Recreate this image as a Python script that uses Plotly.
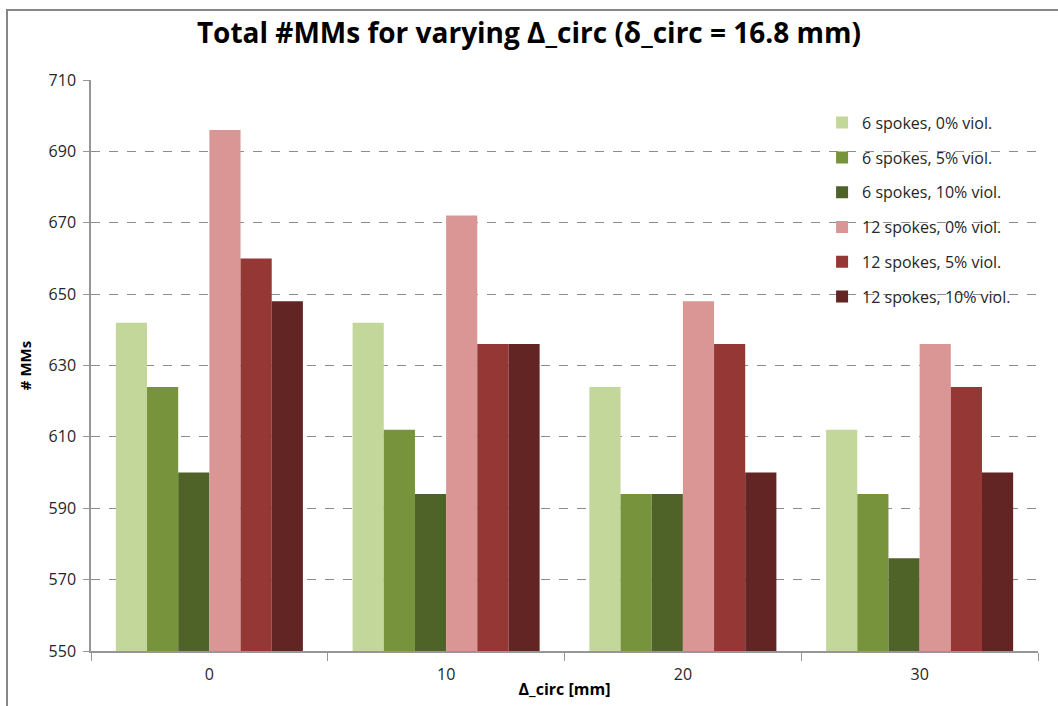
import plotly.graph_objects as go

categories = ["0", "10", "20", "30"]
series_names = [
    "6 spokes, 0% viol.",
    "6 spokes, 5% viol.",
    "6 spokes, 10% viol.",
    "12 spokes, 0% viol.",
    "12 spokes, 5% viol.",
    "12 spokes, 10% viol.",
]
s6_0 = [642, 642, 624, 612]
s6_5 = [624, 612, 594, 594]
s6_10 = [600, 594, 594, 576]
s12_0 = [696, 672, 648, 636]
s12_5 = [660, 636, 636, 624]
s12_10 = [648, 636, 600, 600]
series_values = [s6_0, s6_5, s6_10, s12_0, s12_5, s12_10]
colors = ["#C4D79B", "#77933C", "#4F6228", "#D99694", "#953735", "#632523"]
y_ticks = [550, 570, 590, 610, 630, 650, 670, 690, 710]

fig = go.Figure()
for i, (name, vals, col) in enumerate(zip(series_names, series_values, colors)):
    fig.add_trace(go.Bar(
        x=categories, y=vals, name=name, marker_color=col,
        marker_line_width=0, legendgroup=f"g{i}",
    ))

font_family = "Open Sans, Noto Sans, sans-serif"
fig.update_layout(
    width=1058, height=706,
    margin=dict(l=91, r=20, t=80, b=55),
    paper_bgcolor="white", plot_bgcolor="white",
    barmode="group", bargap=0.21, bargroupgap=0,
    font=dict(family=font_family, size=16, color="#262626"),
    title=dict(
        text="<b>Total #MMs for varying Δ_circ (δ_circ = 16.8 mm)</b>",
        x=0.5, xanchor="center", y=0.953, yanchor="middle",
        font=dict(size=28, color="black", family=font_family),
    ),
    legend=dict(
        x=0.772, xanchor="left", y=0.955, yanchor="top",
        bgcolor="rgba(0,0,0,0)", traceorder="grouped", tracegroupgap=11,
        font=dict(size=16, color="#262626"),
        itemwidth=30,
    ),
    xaxis=dict(
        type="category", showgrid=False, automargin=False,
        showline=True, linecolor="#969696", linewidth=1.5,
        ticks="outside", tickson="boundaries", ticklen=8, tickcolor="#969696",
        ticklabelstandoff=8,
        tickfont=dict(size=16, color="#262626"),
        title=dict(text="<b>Δ_circ [mm]</b>", font=dict(size=16, color="black"), standoff=0),
    ),
    yaxis=dict(
        range=[550, 710], tickvals=y_ticks, ticktext=[str(v) for v in y_ticks],
        showgrid=True, gridcolor="#8C8C8C", griddash="dash", gridwidth=1,
        showline=True, linecolor="#969696", linewidth=1.5,
        ticks="outside", ticklen=6, tickcolor="#969696",
        ticklabelstandoff=4, automargin=False,
        tickfont=dict(size=16, color="#262626"),
        zeroline=False,
        title=dict(text="<b># MMs</b>", font=dict(size=15, color="black"), standoff=13),
    ),
    shapes=[dict(
        type="rect", xref="paper", yref="paper",
        x0=-0.0887, x1=1.2, y0=-0.3, y1=1.1226,
        line=dict(color="#868686", width=2), fillcolor="rgba(0,0,0,0)", layer="below",
    )],
)

fig.write_html("out.html")
